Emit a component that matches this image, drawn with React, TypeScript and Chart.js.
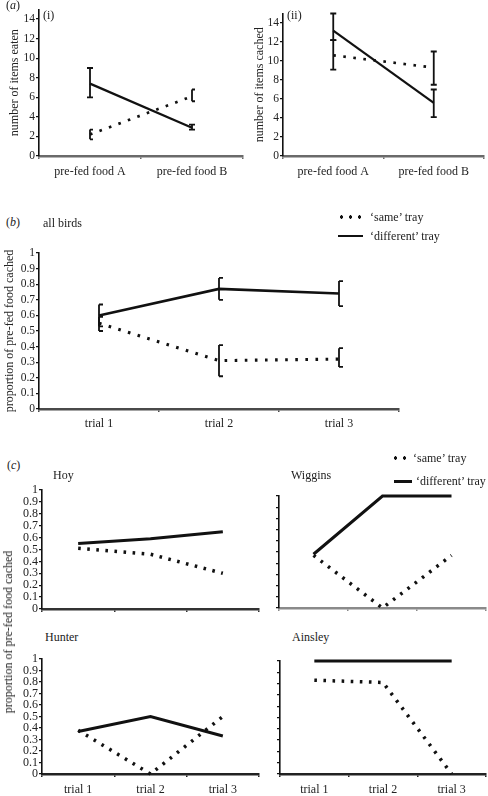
import React, { useEffect, useRef } from 'react';
import { Chart, registerables } from 'chart.js';

Chart.register(...registerables);

const FONT = 'Liberation Serif, DejaVu Serif, serif';

// ---------- data ----------
const foodCategories = ['pre-fed food A', 'pre-fed food B'];
const foodTicks = [0, 2, 4, 6, 8, 10, 12, 14];
const proportionTicks = [0, 0.1, 0.2, 0.3, 0.4, 0.5, 0.6, 0.7, 0.8, 0.9, 1];

const eatenSame = [2.2, 6.1];
const eatenSameLow = [1.7, 5.6];
const eatenSameHigh = [2.7, 6.8];
const eatenDiff = [7.4, 2.9];
const eatenDiffLow = [6.0, 2.7];
const eatenDiffHigh = [9.0, 3.2];

const cachedSame = [10.6, 9.3];
const cachedSameLow = [9.1, 7.5];
const cachedSameHigh = [12.2, 11.0];
const cachedDiff = [13.2, 5.6];
const cachedDiffLow = [12.2, 4.1];
const cachedDiffHigh = [15.0, 7.0];

const trialCategories = ['trial 1', 'trial 2', 'trial 3'];

const allSame = [0.55, 0.31, 0.32];
const allSameLow = [0.50, 0.21, 0.27];
const allSameHigh = [0.59, 0.41, 0.39];
const allDiff = [0.60, 0.77, 0.74];
const allDiffLow = [0.53, 0.70, 0.66];
const allDiffHigh = [0.67, 0.84, 0.82];

const hoySame = [0.51, 0.46, 0.30];
const hoyDiff = [0.55, 0.59, 0.65];
const wigginsSame = [0.47, 0, 0.47];
const wigginsDiff = [0.48, 1, 1];
const hunterSame = [0.38, 0, 0.5];
const hunterDiff = [0.37, 0.5, 0.33];
const ainsleySame = [0.83, 0.81, 0];
const ainsleyDiff = [1, 1, 1];

// ---------- plugin ----------
const errorBarPlugin = {
  id: 'errorBars',
  afterDatasetsDraw(chart: any) {
    const ctx = chart.ctx;
    const yScale = chart.scales.y;
    chart.data.datasets.forEach((ds: any, i: number) => {
      if (!ds.errLow || !ds.errHigh) return;
      const meta = chart.getDatasetMeta(i);
      ctx.save();
      ctx.strokeStyle = '#111';
      ctx.lineWidth = ds.errWidth || 1.8;
      ctx.setLineDash([]);
      meta.data.forEach((pt: any, j: number) => {
        const x = pt.x;
        const yl = yScale.getPixelForValue(ds.errLow[j]);
        const yh = yScale.getPixelForValue(ds.errHigh[j]);
        const cap = ds.errCap || 3;
        const side = ds.errSide || 'both';
        const x0 = side === 'right' ? x : x - cap;
        const x1 = side === 'left' ? x : x + cap;
        ctx.beginPath();
        ctx.moveTo(x, yl);
        ctx.lineTo(x, yh);
        ctx.moveTo(x0, yl);
        ctx.lineTo(x1, yl);
        ctx.moveTo(x0, yh);
        ctx.lineTo(x1, yh);
        ctx.stroke();
      });
      ctx.restore();
    });
  },
};

type Panel = {
  key: string;
  left: number; top: number; width: number; height: number;
  labels: string[];
  same: number[]; diff: number[];
  sameLow?: number[]; sameHigh?: number[]; diffLow?: number[]; diffHigh?: number[];
  yMax: number; yStep: number; yTickValues: number[];
  yLabels: boolean; xLabels: boolean;
  yWidth: number; xHeight: number; padTop: number; padRight: number;
  yTitle?: string; yTitlePad?: number;
  tickSize: number; xLabelPad: number;
  xAxisColor: string; lineWidth: number; dash: number[];
  sameSide: string; diffSide: string; cap: number;
};

const panels: Panel[] = [
  {
    key: 'i', left: 0, top: 0, width: 244, height: 185,
    labels: foodCategories, same: eatenSame, diff: eatenDiff,
    sameLow: eatenSameLow, sameHigh: eatenSameHigh, diffLow: eatenDiffLow, diffHigh: eatenDiffHigh,
    yMax: 15, yStep: 2, yTickValues: foodTicks, yLabels: true, xLabels: true,
    yWidth: 39, xHeight: 29, padTop: 9.3, padRight: 1,
    yTitle: 'number of items eaten', yTitlePad: 7.8, tickSize: 11.5, xLabelPad: 6,
    xAxisColor: '#6a6a6a', lineWidth: 2.2, dash: [2.6, 7.5], sameSide: 'right', diffSide: 'both', cap: 3,
  },
  {
    key: 'ii', left: 244, top: 0, width: 244, height: 185,
    labels: foodCategories, same: cachedSame, diff: cachedDiff,
    sameLow: cachedSameLow, sameHigh: cachedSameHigh, diffLow: cachedDiffLow, diffHigh: cachedDiffHigh,
    yMax: 15, yStep: 2, yTickValues: foodTicks, yLabels: true, xLabels: true,
    yWidth: 39, xHeight: 29, padTop: 13.5, padRight: 4,
    yTitle: 'number of items cached', yTitlePad: 8.8, tickSize: 11.5, xLabelPad: 6,
    xAxisColor: '#6a6a6a', lineWidth: 2.2, dash: [2.6, 7.5], sameSide: 'both', diffSide: 'both', cap: 3,
  },
  {
    key: 'b', left: 0, top: 238, width: 488, height: 200,
    labels: trialCategories, same: allSame, diff: allDiff,
    sameLow: allSameLow, sameHigh: allSameHigh, diffLow: allDiffLow, diffHigh: allDiffHigh,
    yMax: 1, yStep: 0.1, yTickValues: proportionTicks, yLabels: true, xLabels: true,
    yWidth: 39, xHeight: 29, padTop: 15, padRight: 89,
    yTitle: 'proportion of pre-fed food cached', yTitlePad: 2.8, tickSize: 11.5, xLabelPad: 5,
    xAxisColor: '#4a4a4a', lineWidth: 2.6, dash: [2.6, 7.5], sameSide: 'right', diffSide: 'right', cap: 4,
  },
  {
    key: 'hoy', left: 0, top: 478, width: 260, height: 142,
    labels: trialCategories, same: hoySame, diff: hoyDiff,
    yMax: 1, yStep: 0.1, yTickValues: proportionTicks, yLabels: true, xLabels: false,
    yWidth: 42, xHeight: 11, padTop: 12, padRight: 1,
    tickSize: 12, xLabelPad: 6,
    xAxisColor: '#333', lineWidth: 3, dash: [2.6, 6.5], sameSide: 'both', diffSide: 'both', cap: 3,
  },
  {
    key: 'wiggins', left: 260, top: 478, width: 228, height: 142,
    labels: trialCategories, same: wigginsSame, diff: wigginsDiff,
    yMax: 1, yStep: 0.1, yTickValues: proportionTicks, yLabels: false, xLabels: false,
    yWidth: 19, xHeight: 12, padTop: 18, padRight: 2,
    tickSize: 12, xLabelPad: 6,
    xAxisColor: '#8a8a8a', lineWidth: 3, dash: [2.6, 6.5], sameSide: 'both', diffSide: 'both', cap: 3,
  },
  {
    key: 'hunter', left: 0, top: 645, width: 260, height: 151,
    labels: trialCategories, same: hunterSame, diff: hunterDiff,
    yMax: 1, yStep: 0.1, yTickValues: proportionTicks, yLabels: true, xLabels: true,
    yWidth: 42, xHeight: 22, padTop: 14, padRight: 1,
    tickSize: 12, xLabelPad: 6,
    xAxisColor: '#222', lineWidth: 3, dash: [2.6, 6.5], sameSide: 'both', diffSide: 'both', cap: 3,
  },
  {
    key: 'ainsley', left: 260, top: 645, width: 228, height: 151,
    labels: trialCategories, same: ainsleySame, diff: ainsleyDiff,
    yMax: 1, yStep: 0.1, yTickValues: proportionTicks, yLabels: false, xLabels: true,
    yWidth: 20, xHeight: 22, padTop: 16, padRight: 2,
    tickSize: 12, xLabelPad: 6,
    xAxisColor: '#222', lineWidth: 3, dash: [2.6, 6.5], sameSide: 'both', diffSide: 'both', cap: 3,
  },
];

function makeConfig(p: Panel): any {
  return {
    type: 'line',
    data: {
      labels: p.labels,
      datasets: [
        {
          label: '\u2018same\u2019 tray',
          data: p.same,
          borderColor: '#111',
          borderWidth: p.lineWidth + 0.5,
          borderDash: p.dash,
          borderCapStyle: 'butt',
          pointRadius: 0,
          tension: 0,
          fill: false,
          clip: false,
          errLow: p.sameLow, errHigh: p.sameHigh, errSide: p.sameSide, errCap: p.cap,
        },
        {
          label: '\u2018different\u2019 tray',
          data: p.diff,
          borderColor: '#111',
          borderWidth: p.lineWidth,
          pointRadius: 0,
          tension: 0,
          fill: false,
          clip: false,
          errLow: p.diffLow, errHigh: p.diffHigh, errSide: p.diffSide, errCap: p.cap,
        },
      ],
    },
    options: {
      responsive: false,
      animation: false,
      devicePixelRatio: 1,
      layout: { padding: { top: p.padTop, right: p.padRight, left: 0, bottom: 0 } },
      plugins: { legend: { display: false }, tooltip: { enabled: false }, title: { display: false } },
      scales: {
        x: {
          type: 'category',
          offset: true,
          grid: { offset: true, drawOnChartArea: false, drawTicks: true, tickLength: 3, color: p.xAxisColor, lineWidth: 1.5 },
          border: { display: true, color: p.xAxisColor, width: 2.5 },
          ticks: {
            display: p.xLabels,
            color: '#222',
            padding: p.xLabelPad,
            maxRotation: 0,
            autoSkip: false,
            font: { family: FONT, size: 12 },
          },
          afterFit: (s: any) => { s.height = p.xHeight; },
        },
        y: {
          type: 'linear',
          min: 0,
          max: p.yMax,
          grid: { drawOnChartArea: false, drawTicks: true, tickLength: 3, color: '#111', lineWidth: 1.3 },
          border: { display: true, color: '#111', width: 1.6 },
          ticks: {
            stepSize: p.yStep,
            autoSkip: false,
            color: '#222',
            padding: 1,
            font: { family: FONT, size: p.tickSize },
            callback: (v: any) => (p.yLabels ? String(Math.round(Number(v) * 10) / 10) : ''),
          },
          afterBuildTicks: (s: any) => { s.ticks = p.yTickValues.map((v) => ({ value: v })); },
          title: p.yTitle
            ? { display: true, text: p.yTitle, color: '#222', font: { family: FONT, size: 12 }, padding: { top: p.yTitlePad, bottom: 0 } }
            : { display: false },
          afterFit: (s: any) => { s.width = p.yWidth; },
        },
      },
    },
    plugins: [errorBarPlugin],
  };
}

function PanelChart({ p }: { p: Panel }) {
  const ref = useRef<HTMLCanvasElement | null>(null);
  useEffect(() => {
    if (!ref.current) return;
    const chart = new Chart(ref.current, makeConfig(p));
    return () => chart.destroy();
  }, [p]);
  return (
    <canvas
      ref={ref}
      width={p.width}
      height={p.height}
      style={{ position: 'absolute', left: p.left, top: p.top, width: p.width, height: p.height }}
    />
  );
}

const textStyle: React.CSSProperties = {
  position: 'absolute',
  fontFamily: FONT,
  fontSize: 12,
  color: '#222',
  lineHeight: '14px',
  whiteSpace: 'nowrap',
};

function Label({ x, y, children, size }: { x: number; y: number; children: React.ReactNode; size?: number }) {
  return (
    <div style={{ ...textStyle, left: x, top: y - 7, fontSize: size || 12 }}>{children}</div>
  );
}

function DotSample({ x, y, w }: { x: number; y: number; w: number }) {
  return (
    <div
      style={{
        position: 'absolute', left: x, top: y - 2, width: w, height: 4,
        backgroundImage: 'radial-gradient(circle, #111 1.5px, transparent 1.9px)',
        backgroundSize: '9px 4px', backgroundPosition: '0 0',
      }}
    />
  );
}

function LineSample({ x, y, w, t }: { x: number; y: number; w: number; t: number }) {
  return <div style={{ position: 'absolute', left: x, top: y - t / 2, width: w, height: t, background: '#111' }} />;
}

export default function App() {
  return (
    <div style={{ position: 'fixed', left: 0, top: 0, width: 488, height: 796, background: '#fff', overflow: 'hidden' }}>
      {panels.map((p) => <PanelChart key={p.key} p={p} />)}

      <Label x={6} y={5}>(<i>a</i>)</Label>
      <Label x={43} y={15}>(i)</Label>
      <Label x={287} y={15}>(ii)</Label>

      <Label x={6} y={222}>(<i>b</i>)</Label>
      <Label x={43} y={223}>all birds</Label>
      <DotSample x={337} y={217} w={27} />
      <Label x={370} y={217}>{'\u2018same\u2019 tray'}</Label>
      <LineSample x={338} y={236} w={25} t={2.6} />
      <Label x={370} y={236}>{'\u2018different\u2019 tray'}</Label>

      <Label x={7} y={465}>(<i>c</i>)</Label>
      <DotSample x={391} y={458} w={18} />
      <Label x={413} y={458}>{'\u2018same\u2019 tray'}</Label>
      <LineSample x={394} y={481} w={18} t={3} />
      <Label x={416} y={481}>{'\u2018different\u2019 tray'}</Label>

      <Label x={53} y={475}>Hoy</Label>
      <Label x={291} y={475}>Wiggins</Label>
      <Label x={45} y={637}>Hunter</Label>
      <Label x={292} y={637}>Ainsley</Label>

      <div
        style={{
          ...textStyle,
          left: 8,
          top: 632,
          transform: 'translate(-50%, -50%) rotate(-90deg)',
        }}
      >
        proportion of pre-fed food cached
      </div>
    </div>
  );
}
